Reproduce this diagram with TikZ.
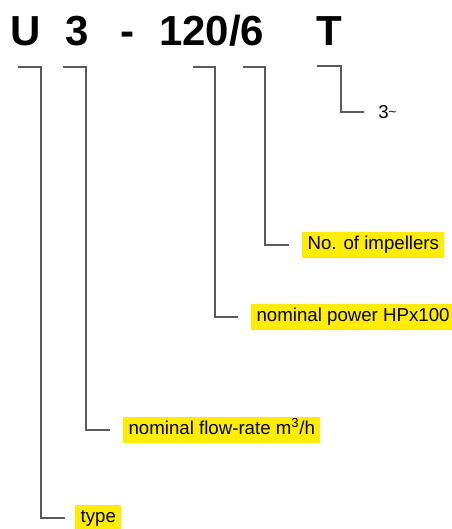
\documentclass[tikz,border=0pt]{standalone}
\usepackage{fontspec}
\setmainfont{Liberation Sans}
\definecolor{hl}{HTML}{FFED00}
\definecolor{ln}{HTML}{5A5A5A}
\tikzset{
  title/.style={anchor=base west, inner sep=0pt, font=\fontsize{31.5}{36}\selectfont\bfseries},
  lbl/.style={anchor=west, fill=hl, inner xsep=4pt, inner ysep=3.7pt, text height=10pt, text depth=2.8pt, font=\fontsize{14}{17}\selectfont},
  bracket/.style={draw=ln, line width=1pt},
}
\begin{document}
\begin{tikzpicture}[x=0.75pt, y=-0.75pt]
\useasboundingbox (0,0) rectangle (451,529);
% title
\node[title] (u) at (10,45) {U};
\node[title] (three) at (65,45) {3};
\node[title] (dash) at (120,45) {-};
\node[title] (num) at (159,45) {120/6};
\node[title] (t) at (316,45) {T};
% labels
\node[lbl] (type) at (75,518) {type};
\node[lbl] (flow) at (123,430) {nominal flow-rate m\textsuperscript{3}/h};
\node[lbl] (power) at (251,317) {nominal power HPx100};
\node[lbl] (imp) at (302,245) {No. of impellers};
\node[anchor=west, inner sep=0pt, font=\fontsize{14}{17}\selectfont] (phase) at (378,112) {3\raisebox{0.1em}{\fontsize{10}{12}\selectfont\char`\~}};
% bracket start points
\coordinate (a1) at (18,67);
\coordinate (a2) at (63,67);
\coordinate (a3) at (193,67);
\coordinate (a4) at (243,67);
\coordinate (a5) at (317,66);
% connectors
\draw[bracket, shorten >=7.5pt] (a1) -- ++(23,0) |- (type.west);
\draw[bracket, shorten >=9.75pt] (a2) -- ++(23,0) |- (flow.west);
\draw[bracket, shorten >=9.75pt] (a3) -- ++(22,0) |- (power.west);
\draw[bracket, shorten >=9.75pt] (a4) -- ++(22,0) |- (imp.west);
\draw[bracket, shorten >=10.5pt] (a5) -- ++(24,0) |- (phase.west);
\end{tikzpicture}
\end{document}
